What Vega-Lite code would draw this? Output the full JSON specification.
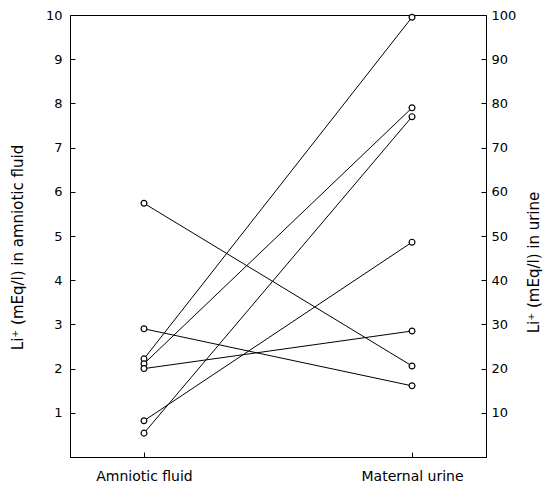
{
  "$schema": "https://vega.github.io/schema/vega-lite/v6.json",
  "autosize": {"type": "none"},
  "width": 416,
  "height": 442,
  "padding": {"left": 70, "top": 15, "right": 73, "bottom": 30},
  "background": "white",
  "config": {
    "view": {"stroke": "black", "strokeWidth": 1},
    "font": "DejaVu Sans",
    "axis": {
      "domainColor": "black",
      "tickColor": "black",
      "labelColor": "black",
      "titleColor": "black",
      "grid": false,
      "labelFont": "DejaVu Sans",
      "titleFont": "DejaVu Sans",
      "labelFontSize": 13,
      "titleFontSize": 15,
      "titleFontWeight": "normal"
    }
  },
  "data": {
    "values": [
      {"subject": "A", "site": "Amniotic fluid", "li": 2.22},
      {"subject": "A", "site": "Maternal urine", "li": 99.5},
      {"subject": "B", "site": "Amniotic fluid", "li": 2.11},
      {"subject": "B", "site": "Maternal urine", "li": 79},
      {"subject": "C", "site": "Amniotic fluid", "li": 0.54},
      {"subject": "C", "site": "Maternal urine", "li": 77},
      {"subject": "D", "site": "Amniotic fluid", "li": 0.82},
      {"subject": "D", "site": "Maternal urine", "li": 48.6},
      {"subject": "E", "site": "Amniotic fluid", "li": 2.0},
      {"subject": "E", "site": "Maternal urine", "li": 28.5},
      {"subject": "F", "site": "Amniotic fluid", "li": 5.74},
      {"subject": "F", "site": "Maternal urine", "li": 20.6},
      {"subject": "G", "site": "Amniotic fluid", "li": 2.9},
      {"subject": "G", "site": "Maternal urine", "li": 16.1}
    ]
  },
  "transform": [
    {"calculate": "datum.site == 'Maternal urine' ? datum.li / 10 : datum.li", "as": "pos"}
  ],
  "encoding": {
    "x": {
      "field": "site",
      "type": "ordinal",
      "sort": ["Amniotic fluid", "Maternal urine"],
      "scale": {"type": "point", "padding": 0.276},
      "axis": {
        "title": null,
        "labelAngle": 0,
        "tickSize": -5,
        "labelPadding": 17,
        "labelFontSize": 14
      }
    }
  },
  "layer": [
    {
      "mark": {
        "type": "line",
        "color": "black",
        "strokeWidth": 1,
        "point": {"filled": false, "fill": "white", "stroke": "black", "strokeWidth": 1.2, "size": 34, "opacity": 1}
      },
      "encoding": {
        "y": {
          "field": "pos",
          "type": "quantitative",
          "scale": {"domain": [0, 10], "nice": false, "zero": true},
          "axis": {
            "orient": "left",
            "values": [1, 2, 3, 4, 5, 6, 7, 8, 9, 10],
            "tickSize": -5,
            "labelPadding": 13,
            "title": "Li⁺ (mEq/l) in  amniotic  fluid",
            "titlePadding": 20,
            "titleY": 232
          }
        },
        "detail": {"field": "subject"}
      }
    },
    {
      "mark": {"type": "rule", "opacity": 0},
      "encoding": {
        "y": {
          "datum": 0,
          "type": "quantitative",
          "scale": {"domain": [0, 100], "nice": false},
          "axis": {
            "orient": "right",
            "values": [10, 20, 30, 40, 50, 60, 70, 80, 90, 100],
            "tickSize": -5,
            "labelPadding": 10,
            "title": "Li⁺ (mEq/l) in  urine",
            "titleAngle": -90,
            "titlePadding": 26,
            "titleY": 247
          }
        }
      }
    }
  ],
  "resolve": {"scale": {"y": "independent"}}
}
